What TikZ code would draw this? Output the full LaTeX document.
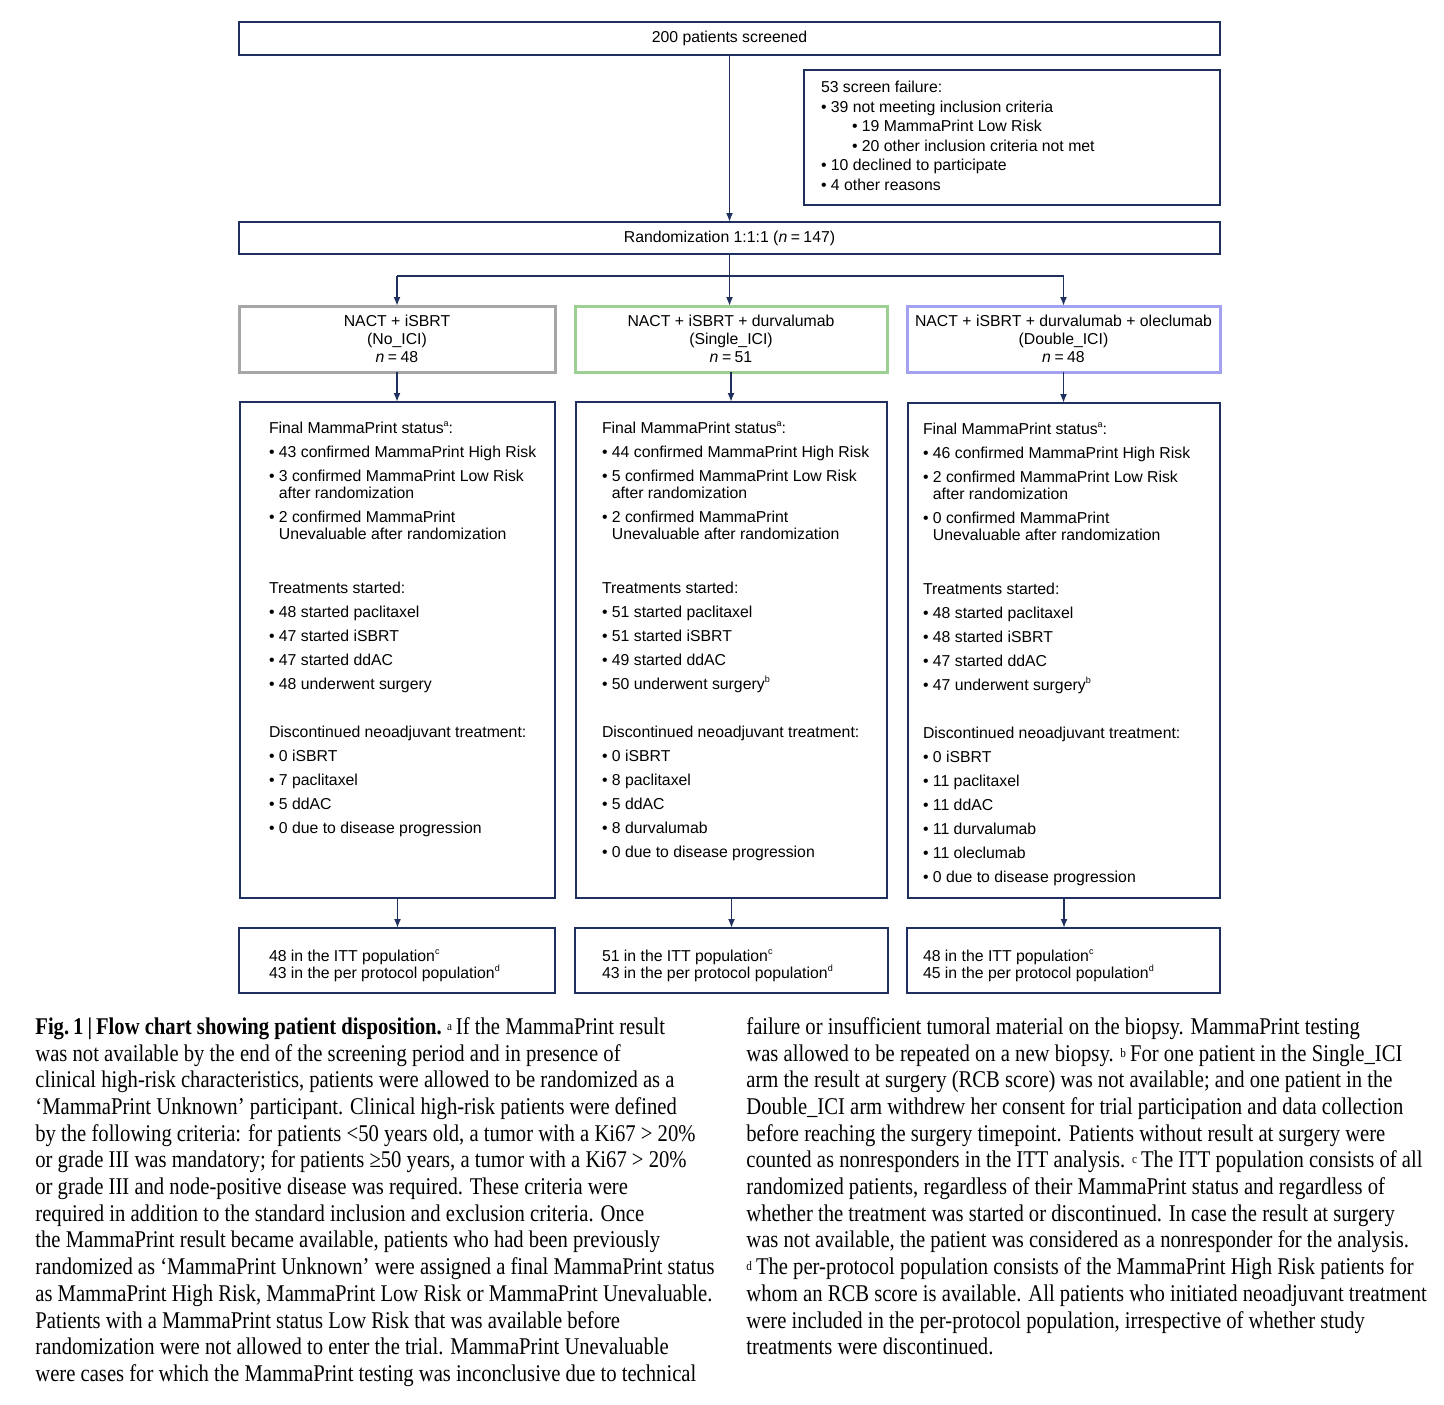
\documentclass[tikz,border=0pt]{standalone}
\usepackage{fontspec}
\setmainfont{Liberation Sans}
\newfontfamily\capfont[FakeStretch=0.86]{Liberation Serif}
\usetikzlibrary{arrows.meta,calc}

\definecolor{navy}{HTML}{1F2F5E}
\definecolor{armgray}{HTML}{A6A6A6}
\definecolor{armgreen}{HTML}{9CD093}
\definecolor{armblue}{HTML}{A2A2F0}

% small helpers for the box texts
\newcommand{\bul}{\textbullet\ }
\newcommand{\ind}{\phantom{\textbullet\ }}
\newcommand{\sups}[1]{\raisebox{0.85ex}{\fontsize{4.5}{5}\selectfont #1}}
\newcommand{\capsup}[1]{\raisebox{0.35ex}{\fontsize{6.5}{6.5}\selectfont #1}\,}
\newcommand{\nn}{\textit{n}\hspace{0.22em}=\hspace{0.22em}}
% width, height, left pad, top pad, text
\newcommand{\boxpar}[5]{\hspace*{#3}\parbox[t][#2][t]{\dimexpr#1-#3\relax}{\raggedright\vspace*{#4}#5}}
\newcommand{\armpar}[1]{\raisebox{-1pt}{\parbox{150pt}{\centering #1}}}

\tikzset{
  box/.style={draw=navy, line width=1pt, inner sep=0pt, outer sep=0pt,
    font=\fontsize{7.9}{8.5}\selectfont},
  arm/.style={box, line width=1.5pt,
    font=\fontsize{7.9}{9}\selectfont},
  line/.style={draw=navy, line width=0.9pt},
  conn/.style={line, -{Latex[length=4.5pt,width=3.5pt]}},
  caption/.style={anchor=north west, inner sep=0pt, align=left,
    font=\capfont\fontsize{12}{13.35}\selectfont}
}

\begin{document}
\begin{tikzpicture}[x=0.5pt,y=-0.5pt]
\useasboundingbox (0,0) rectangle (1444,1404);

    % screening
    \node[box, minimum width=490.5pt, minimum height=16.5pt] (screened) at (729.5,38.5)
        {200 patients screened};
    \node[box, font=\fontsize{7.9}{9.8}\selectfont] (fail) at (1012,137.5)
        {\boxpar{208pt}{67.5pt}{8.5pt}{5.5pt}{53 screen failure:\\
        \bul 39 not meeting inclusion criteria\\
        \hspace*{15.5pt}\bul 19 MammaPrint Low Risk\\
        \hspace*{15.5pt}\bul 20 other inclusion criteria not met\\
        \bul 10 declined to participate\\
        \bul 4 other reasons}};
    \node[box, minimum width=490.5pt, minimum height=16pt] (rand) at (729.5,238)
        {Randomization 1:1:1 (\nn 147)};

    % arms
    \node[arm, draw=armgray, minimum width=158pt, minimum height=33pt] (noici) at (397,339)
        {\armpar{NACT + iSBRT\\(No\_ICI)\\\nn 48}};
    \node[arm, draw=armgreen, minimum width=156pt, minimum height=33pt] (single) at (731,339)
        {\armpar{NACT + iSBRT + durvalumab\\(Single\_ICI)\\\nn 51}};
    \node[arm, draw=armblue, minimum width=156.5pt, minimum height=33pt] (dblici) at (1063.5,339)
        {\armpar{NACT + iSBRT + durvalumab + oleclumab\\(Double\_ICI)\\\nn 48}};

    % disposition per arm
    \node[box] (det1) at (397.5,650)
        {\boxpar{157.5pt}{248pt}{14.5pt}{10pt}{Final MammaPrint status\sups{a}:\\[3.5pt]
        \bul 43 confirmed MammaPrint High Risk\\[3.5pt]
        \bul 3 confirmed MammaPrint Low Risk\\
        \ind after randomization\\[3.5pt]
        \bul 2 confirmed MammaPrint\\
        \ind Unevaluable after randomization\\[18.5pt]
        Treatments started:\\[3.5pt]
        \bul 48 started paclitaxel\\[3.5pt]
        \bul 47 started iSBRT\\[3.5pt]
        \bul 47 started ddAC\\[3.5pt]
        \bul 48 underwent surgery\\[15.5pt]
        Discontinued neoadjuvant treatment:\\[3.5pt]
        \bul 0 iSBRT\\[3.5pt]
        \bul 7 paclitaxel\\[3.5pt]
        \bul 5 ddAC\\[3.5pt]
        \bul 0 due to disease progression}};
    \node[box] (det2) at (731.5,650)
        {\boxpar{155.5pt}{248pt}{13pt}{10pt}{Final MammaPrint status\sups{a}:\\[3.5pt]
        \bul 44 confirmed MammaPrint High Risk\\[3.5pt]
        \bul 5 confirmed MammaPrint Low Risk\\
        \ind after randomization\\[3.5pt]
        \bul 2 confirmed MammaPrint\\
        \ind Unevaluable after randomization\\[18.5pt]
        Treatments started:\\[3.5pt]
        \bul 51 started paclitaxel\\[3.5pt]
        \bul 51 started iSBRT\\[3.5pt]
        \bul 49 started ddAC\\[3.5pt]
        \bul 50 underwent surgery\sups{b}\\[15.5pt]
        Discontinued neoadjuvant treatment:\\[3.5pt]
        \bul 0 iSBRT\\[3.5pt]
        \bul 8 paclitaxel\\[3.5pt]
        \bul 5 ddAC\\[3.5pt]
        \bul 8 durvalumab\\[3.5pt]
        \bul 0 due to disease progression}};
    \node[box] (det3) at (1064,650.5)
        {\boxpar{156pt}{247.5pt}{7.5pt}{10pt}{Final MammaPrint status\sups{a}:\\[3.5pt]
        \bul 46 confirmed MammaPrint High Risk\\[3.5pt]
        \bul 2 confirmed MammaPrint Low Risk\\
        \ind after randomization\\[3.5pt]
        \bul 0 confirmed MammaPrint\\
        \ind Unevaluable after randomization\\[18.5pt]
        Treatments started:\\[3.5pt]
        \bul 48 started paclitaxel\\[3.5pt]
        \bul 48 started iSBRT\\[3.5pt]
        \bul 47 started ddAC\\[3.5pt]
        \bul 47 underwent surgery\sups{b}\\[15.5pt]
        Discontinued neoadjuvant treatment:\\[3.5pt]
        \bul 0 iSBRT\\[3.5pt]
        \bul 11 paclitaxel\\[3.5pt]
        \bul 11 ddAC\\[3.5pt]
        \bul 11 durvalumab\\[3.5pt]
        \bul 11 oleclumab\\[3.5pt]
        \bul 0 due to disease progression}};

    % populations
    \node[box] (pop1) at (397,960.5)
        {\boxpar{158pt}{32.5pt}{15pt}{11pt}{48 in the ITT population\sups{c}\\
        43 in the per protocol population\sups{d}}};
    \node[box] (pop2) at (731.5,960.5)
        {\boxpar{156.5pt}{32.5pt}{13.5pt}{11pt}{51 in the ITT population\sups{c}\\
        43 in the per protocol population\sups{d}}};
    \node[box] (pop3) at (1063.5,960.5)
        {\boxpar{156.5pt}{32.5pt}{8pt}{11pt}{48 in the ITT population\sups{c}\\
        45 in the per protocol population\sups{d}}};

    % connectors
    \draw[conn] (screened.south) -- (rand.north);
    \draw[line] ($(fail.north west)!0.45!(fail.south west)$) -- ($(fail.north west)!0.45!(fail.south west)$ -| screened.south);
    \draw[line] (rand.south) -- ++(0,22) coordinate (split);
    \draw[line] (split -| noici.north) -- (split -| dblici.north);
    \draw[conn] (split -| noici.north) -- (noici.north);
    \draw[conn] (split) -- (split |- single.north);
    \draw[conn] (split -| dblici.north) -- (dblici.north);
    \draw[conn] (noici.south) -- (noici.south |- det1.north);
    \draw[conn] (single.south) -- (single.south |- det2.north);
    \draw[conn] (dblici.south) -- (dblici.south |- det3.north);
    \draw[conn] (det1.south) -- (det1.south |- pop1.north);
    \draw[conn] (det2.south) -- (det2.south |- pop2.north);
    \draw[conn] (det3.south) -- (det3.south |- pop3.north);

    % caption
    \node[caption] (capleft) at (35,1017)
        {{\bfseries Fig.\,1\,|\,Flow chart showing patient disposition.}\ \capsup{a}If the MammaPrint result\\
        was not available by the end of the screening period and in presence of\\
        clinical high-risk characteristics, patients were allowed to be randomized as a\\
        ‘MammaPrint Unknown’ participant. Clinical high-risk patients were defined\\
        by the following criteria: for patients <50 years old, a tumor with a Ki67 > 20\%\\
        or grade III was mandatory; for patients ≥50 years, a tumor with a Ki67 > 20\%\\
        or grade III and node-positive disease was required. These criteria were\\
        required in addition to the standard inclusion and exclusion criteria. Once\\
        the MammaPrint result became available, patients who had been previously\\
        randomized as ‘MammaPrint Unknown’ were assigned a final MammaPrint status\\
        as MammaPrint High Risk, MammaPrint Low Risk or MammaPrint Unevaluable.\\
        Patients with a MammaPrint status Low Risk that was available before\\
        randomization were not allowed to enter the trial. MammaPrint Unevaluable\\
        were cases for which the MammaPrint testing was inconclusive due to technical};
    \node[caption] (capright) at (746,1017)
        {failure or insufficient tumoral material on the biopsy. MammaPrint testing\\
        was allowed to be repeated on a new biopsy. \capsup{b}For one patient in the Single\_ICI\\
        arm the result at surgery (RCB score) was not available; and one patient in the\\
        Double\_ICI arm withdrew her consent for trial participation and data collection\\
        before reaching the surgery timepoint. Patients without result at surgery were\\
        counted as nonresponders in the ITT analysis. \capsup{c}The ITT population consists of all\\
        randomized patients, regardless of their MammaPrint status and regardless of\\
        whether the treatment was started or discontinued. In case the result at surgery\\
        was not available, the patient was considered as a nonresponder for the analysis.\\
        \capsup{d}The per-protocol population consists of the MammaPrint High Risk patients for\\
        whom an RCB score is available. All patients who initiated neoadjuvant treatment\\
        were included in the per-protocol population, irrespective of whether study\\
        treatments were discontinued.};

\end{tikzpicture}
\end{document}
